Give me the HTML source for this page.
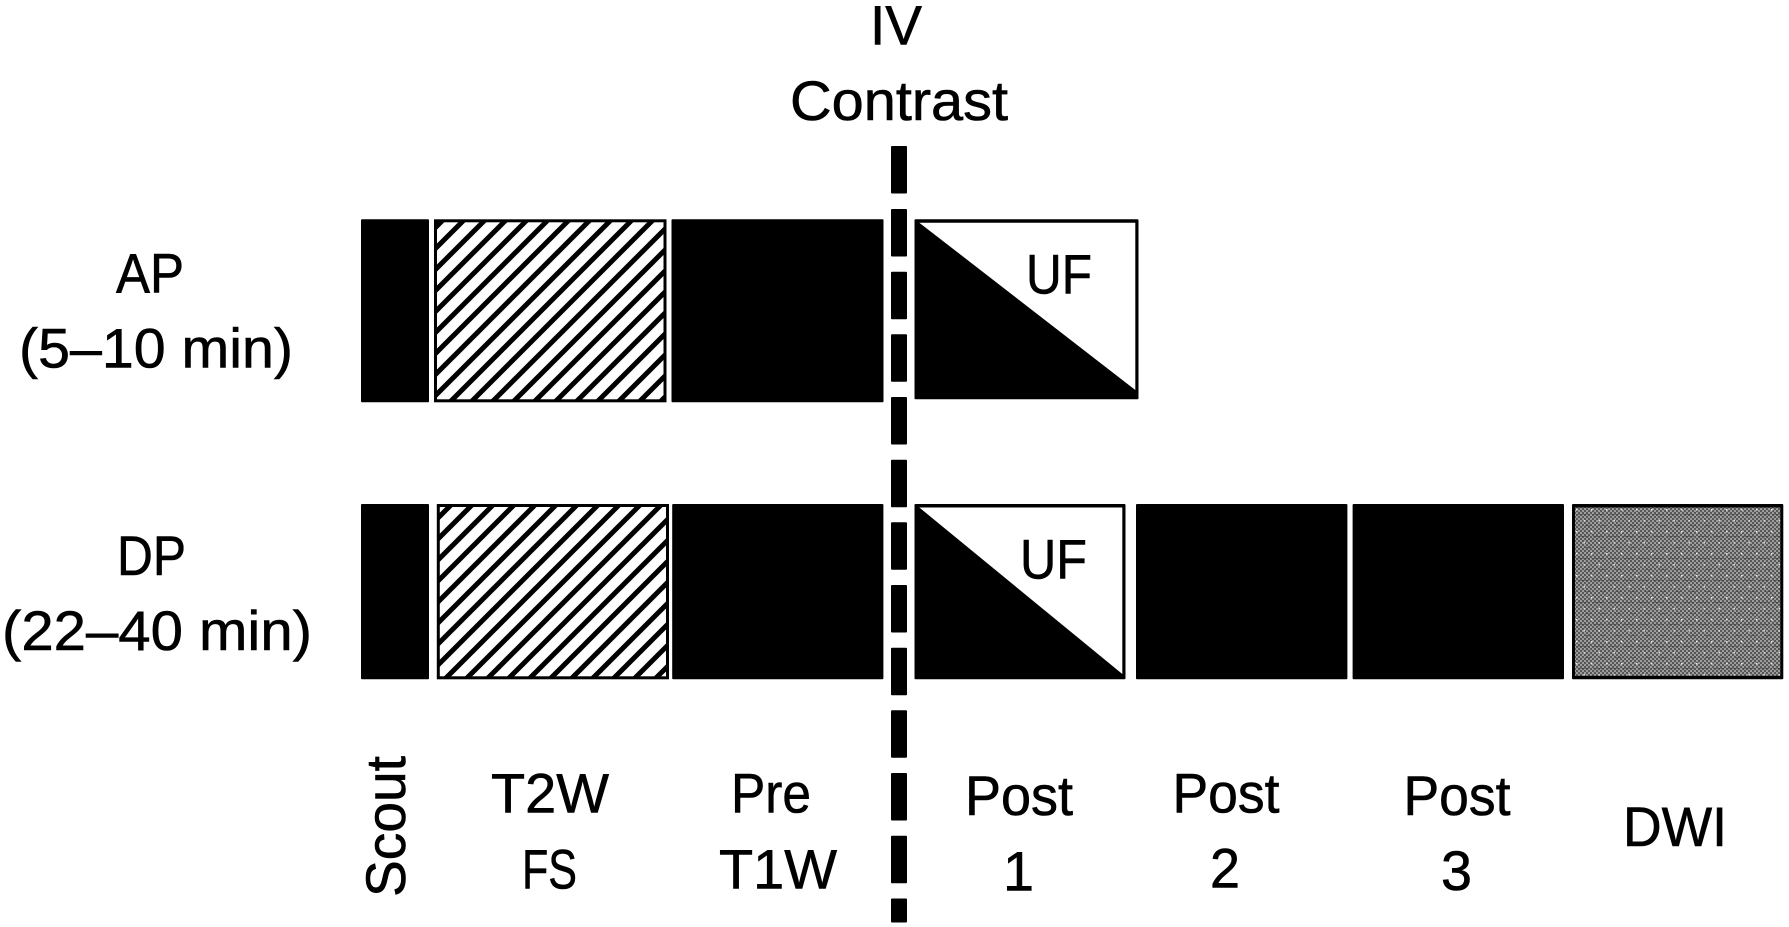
<!DOCTYPE html>
<html>
<head>
<meta charset="utf-8">
<style>
html,body{margin:0;padding:0;background:#fff}
svg{display:block}
text{font-family:"Liberation Sans",sans-serif;font-size:56px;fill:#000;stroke:#000;stroke-width:.6px}
</style>
</head>
<body>
<svg width="1789" height="927" viewBox="0 0 1789 927" xmlns="http://www.w3.org/2000/svg">
<defs>
<pattern id="h1" width="21" height="21" patternUnits="userSpaceOnUse" patternTransform="translate(12,0)">
<rect width="21" height="21" fill="#fff"/>
<path d="M-2 23L23 -2M-5 5L5 -5M16 26L26 16" stroke="#000" stroke-width="5" fill="none"/>
</pattern>
<pattern id="h2" width="21" height="21" patternUnits="userSpaceOnUse" patternTransform="translate(11,0)">
<rect width="21" height="21" fill="#fff"/>
<path d="M-2 23L23 -2M-5 5L5 -5M16 26L26 16" stroke="#000" stroke-width="5" fill="none"/>
</pattern>
<pattern id="chk" width="4" height="4" patternUnits="userSpaceOnUse">
<rect width="4" height="4" fill="#575757"/>
<rect width="2" height="2" fill="#9c9c9c"/>
<rect x="2" y="2" width="2" height="2" fill="#9c9c9c"/>
</pattern>
<pattern id="dots" width="15" height="22" patternUnits="userSpaceOnUse" patternTransform="translate(1576,509)">
<rect x="0" y="0" width="1.5" height="1.5" fill="#eee"/>
<rect x="7.5" y="11" width="1.5" height="1.5" fill="#ddd"/>
<rect x="2" y="5" width="11" height="1" fill="#333" opacity=".45"/>
<rect x="9" y="16" width="11" height="1" fill="#333" opacity=".45"/>
</pattern>
</defs>

<!-- dashed contrast line -->
<g fill="#000">
<rect x="891" y="146" width="16" height="47.5" rx="1"/>
<rect x="891" y="209" width="16" height="47.5" rx="1"/>
<rect x="891" y="271.7" width="16" height="47.5" rx="1"/>
<rect x="891" y="334.3" width="16" height="47.5" rx="1"/>
<rect x="891" y="397" width="16" height="47.5" rx="1"/>
<rect x="891" y="459.7" width="16" height="47.5" rx="1"/>
<rect x="891" y="522.3" width="16" height="47.5" rx="1"/>
<rect x="891" y="585" width="16" height="47.5" rx="1"/>
<rect x="891" y="647.7" width="16" height="47.5" rx="1"/>
<rect x="891" y="710.3" width="16" height="47.5" rx="1"/>
<rect x="891" y="773" width="16" height="47.5" rx="1"/>
<rect x="891" y="835.7" width="16" height="47.5" rx="1"/>
<rect x="891" y="898.5" width="16" height="24" rx="1"/>
</g>

<!-- AP row -->
<rect x="361" y="219.3" width="68" height="183" rx="1" fill="#000"/>
<rect x="435.5" y="220.8" width="229.5" height="180" fill="url(#h1)" stroke="#000" stroke-width="3"/>
<rect x="671.5" y="219.3" width="212" height="183" rx="1" fill="#000"/>
<rect x="914.5" y="219.3" width="224" height="180" rx="1" fill="#000"/>
<polygon points="919.3,222.7 1135.3,222.7 1135.3,390" fill="#fff"/>

<!-- DP row -->
<rect x="361" y="504" width="68" height="175.3" rx="1" fill="#000"/>
<rect x="438.3" y="505.5" width="229.2" height="172.3" fill="url(#h2)" stroke="#000" stroke-width="3"/>
<rect x="672.2" y="504" width="211.2" height="175.3" rx="1" fill="#000"/>
<rect x="914.5" y="504" width="211" height="175.3" rx="1" fill="#000"/>
<polygon points="919.3,507.5 1122.3,507.5 1122.3,674" fill="#fff"/>
<rect x="1136" y="504" width="211.4" height="175.3" rx="1" fill="#000"/>
<rect x="1352.6" y="504" width="211.4" height="175.3" rx="1" fill="#000"/>
<rect x="1572" y="504" width="211.3" height="175.3" rx="1" fill="#000"/>
<rect x="1575" y="507.5" width="205.3" height="168.3" fill="url(#chk)"/>
<rect x="1575" y="507.5" width="205.3" height="168.3" fill="url(#dots)"/>

<!-- labels -->
<text x="870" y="44.3" textLength="52" lengthAdjust="spacingAndGlyphs">IV</text>
<text x="790" y="120" textLength="218" lengthAdjust="spacingAndGlyphs">Contrast</text>

<text x="116" y="292.7" textLength="68" lengthAdjust="spacingAndGlyphs">AP</text>
<text x="19" y="367.3" textLength="274" lengthAdjust="spacingAndGlyphs">(5–10 min)</text>
<text x="117" y="575" textLength="69" lengthAdjust="spacingAndGlyphs">DP</text>
<text x="2" y="650" textLength="310" lengthAdjust="spacingAndGlyphs">(22–40 min)</text>

<text x="1026" y="293.3" textLength="66" lengthAdjust="spacingAndGlyphs">UF</text>
<text x="1020" y="578.5" textLength="67" lengthAdjust="spacingAndGlyphs">UF</text>

<text transform="translate(405,897) rotate(-90)" textLength="141" lengthAdjust="spacingAndGlyphs">Scout</text>

<text x="491" y="812.7" textLength="118" lengthAdjust="spacingAndGlyphs">T2W</text>
<text x="522" y="888.3" textLength="55" lengthAdjust="spacingAndGlyphs">FS</text>
<text x="731" y="812.7" textLength="80" lengthAdjust="spacingAndGlyphs">Pre</text>
<text x="719" y="888.3" textLength="118" lengthAdjust="spacingAndGlyphs">T1W</text>

<text x="965" y="815" textLength="108" lengthAdjust="spacingAndGlyphs">Post</text>
<text x="1003" y="890.7" textLength="31" lengthAdjust="spacingAndGlyphs">1</text>
<text x="1172.5" y="812.3" textLength="107" lengthAdjust="spacingAndGlyphs">Post</text>
<text x="1210" y="887.7" textLength="30" lengthAdjust="spacingAndGlyphs">2</text>
<text x="1403.5" y="815" textLength="107" lengthAdjust="spacingAndGlyphs">Post</text>
<text x="1441" y="890" textLength="31" lengthAdjust="spacingAndGlyphs">3</text>
<text x="1623" y="846" textLength="104" lengthAdjust="spacingAndGlyphs">DWI</text>
</svg>
</body>
</html>
